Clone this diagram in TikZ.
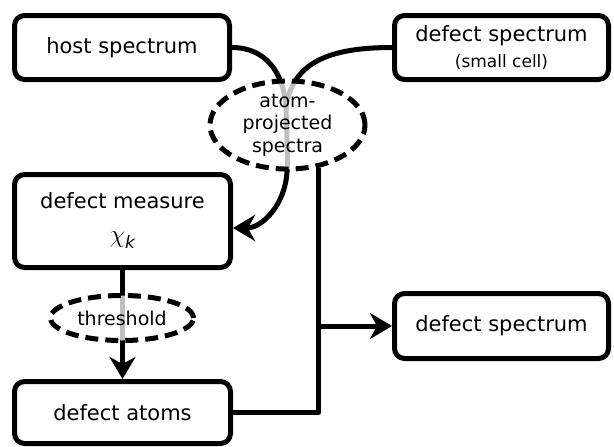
\documentclass[tikz,border=0pt]{standalone}
\usepackage{fontspec}
\setmainfont{DejaVu Sans}
\usetikzlibrary{shapes.geometric,arrows.meta}

\tikzset{
  box/.style={draw, line width=5pt, rounded corners=10pt, fill=white,
    inner sep=0pt, align=center, font=\fontsize{21}{25}\selectfont},
  cloud/.style={draw, dashed, dash pattern=on 13pt off 7pt, line width=5pt,
    ellipse, inner sep=0pt, align=center, fill=white, fill opacity=0.75,
    text opacity=1, font=\fontsize{19}{22.5}\selectfont},
  link/.style={line width=5pt, line join=round},
  tip/.style={-{Stealth[length=22pt,width=26pt,inset=7pt]}},
}

\begin{document}
\begin{tikzpicture}[x=1pt, y=-1pt]
\useasboundingbox (0,0) rectangle (614,447);

% boxes
\node[box, minimum width=215pt, minimum height=64pt] (host) at (122,47.5) {host spectrum};
\node[box, minimum width=214pt, minimum height=64pt] (dsmall) at (501.5,47.5)
  {defect spectrum\\[1pt]{\fontsize{17}{19}\selectfont (small cell)}};
\node[box, minimum width=216pt, minimum height=93pt] (measure) at (122.5,221)
  {defect measure\\[9pt]{\fontsize{30}{30}\selectfont$\chi$}{\fontsize{17}{17}\selectfont\itshape\raisebox{-6pt}{k}}};
\node[box, minimum width=216pt, minimum height=62pt] (atoms) at (122.5,412.5) {defect atoms};
\node[box, minimum width=214pt, minimum height=65pt] (dspec) at (501.5,326) {defect spectrum};

% connectors drawn before the translucent clouds
\coordinate (m) at (286,108);
\coordinate (fork) at (317,326);
\path (287.5,125) coordinate (apsc);
\draw[link] (host.east) .. controls (265,47.5) and (284,72) .. (m);
\draw[link] (dsmall.west) .. controls (330,47.5) and (292,62) .. (m);
\draw[link, tip] (m) .. controls (287,140) and (288,158) .. (287,172)
  .. controls (285,205) and (262,228) .. ([yshift=-7pt]measure.east);
\draw[link, tip] (measure.south) -- (atoms.north);

% clouds
\node[cloud, minimum width=155pt, minimum height=81pt] (aps) at (apsc)
  {atom-\\projected\\spectra};
\node[cloud, minimum width=143pt, minimum height=45pt] (thr) at (122,318) {threshold};

% outputs of the clouds
\draw[link] (aps.-54) |- (atoms.east);
\draw[link, tip] (fork) -- (dspec.west);
\end{tikzpicture}
\end{document}
